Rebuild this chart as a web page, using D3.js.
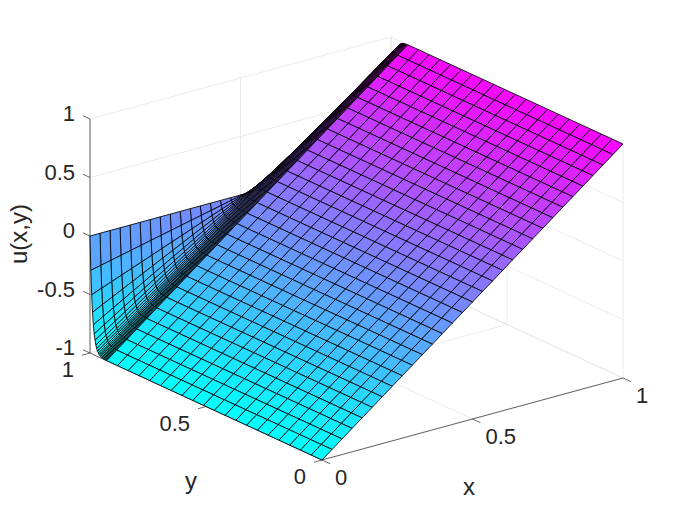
<!DOCTYPE html>
<html>
<head>
<meta charset="utf-8">
<style>
html,body{margin:0;padding:0;background:#fff}
svg{display:block}
text{font-family:"Liberation Sans",Arial,sans-serif;font-size:22px;fill:#262626}
text.axis-title{font-size:24px}
</style>
<script src="https://cdn.jsdelivr.net/npm/d3@7/dist/d3.min.js"></script>
</head>
<body>
<svg id="chart" width="689" height="517"></svg>
<script>
const xNodes=[0,.0333,.0667,.1,.1333,.1667,.2,.2333,.2667,.3,.3333,.3667,.4,.4333,.4667,.5,.5333,.5667,.6,.6333,.6667,.7,.7333,.7667,.8,.8333,.8667,.9,.9333,.9667,1];
const heightAtFrontEdge=[-1,-.9333,-.8667,-.8,-.7333,-.6667,-.6,-.5333,-.4667,-.4,-.3333,-.2667,-.2,-.1333,-.0667,0,.0667,.1333,.2,.2667,.3333,.4,.4667,.5333,.6,.6667,.7333,.8,.8667,.9333,1];
const yNodes=[0,.0464,.0928,.1392,.1856,.232,.2784,.3248,.3712,.4176,.464,.5104,.5568,.6032,.6496,.696,.7424,.7888,.8352,.8816,.928,.9316,.9352,.9388,.9424,.946,.9496,.9532,.9568,.9604,.964,.9676,.9712,.9748,.9784,.982,.9856,.9892,.9928,.9964,1];
const layerProfile=[1,1,1,1,1,1,1,1,1,1,1,1,1,1,1,1,1,1,1,1,.999,.9985,.998,.997,.996,.994,.992,.988,.983,.977,.967,.954,.936,.909,.872,.82,.746,.642,.496,.29,0];
const xTicks=[0,.5,1], yTicks=[0,.5,1], zTicks=[-1,-.5,0,.5,1];
const xTickLabels=["0","0.5","1"], yTickLabels=["0","0.5","1"], zTickLabels=["-1","-0.5","0","0.5","1"];

const svg=d3.select("#chart");
const xToPx=d3.scaleLinear([0,1],[0,301]), xToPy=d3.scaleLinear([0,1],[0,-82]);
const yToPx=d3.scaleLinear([0,1],[0,-232]), yToPy=d3.scaleLinear([0,1],[0,-107]);
const zToPy=d3.scaleLinear([-1,1],[0,-234]);
const ox=322, oy=460;
const P=(x,y,z)=>[ox+xToPx(x)+yToPx(y), oy+xToPy(x)+yToPy(y)+zToPy(z)];
const color=d3.scaleLinear([-1,1],["#00ffff","#ff00ff"]);
const line=d3.line();

const gridG=svg.append("g").attr("fill","none").attr("stroke","#e4e4e4").attr("stroke-width",.8);
const seg=(g,a,b)=>g.append("path").attr("d",line([a,b]));
zTicks.forEach(z=>{seg(gridG,P(0,1,z),P(1,1,z));seg(gridG,P(1,1,z),P(1,0,z));});
xTicks.forEach(x=>{seg(gridG,P(x,1,-1),P(x,1,1));seg(gridG,P(x,0,-1),P(x,1,-1));});
yTicks.forEach(y=>{seg(gridG,P(1,y,-1),P(1,y,1));seg(gridG,P(0,y,-1),P(1,y,-1));});

const axisG=svg.append("g").attr("fill","none").attr("stroke","#262626").attr("stroke-width",.7);
seg(axisG,P(0,0,-1),P(1,0,-1));
seg(axisG,P(0,0,-1),P(0,1,-1));
seg(axisG,P(0,1,-1),P(0,1,1));
const xT=[8,3.7], yT=[-8,2.2], zT=[-7,-3.2];
xTicks.forEach(x=>{const p=P(x,0,-1);seg(axisG,p,[p[0]+xT[0],p[1]+xT[1]]);});
yTicks.forEach(y=>{const p=P(0,y,-1);seg(axisG,p,[p[0]+yT[0],p[1]+yT[1]]);});
zTicks.forEach(z=>{const p=P(0,1,z);seg(axisG,p,[p[0]+zT[0],p[1]+zT[1]]);});

const surf=svg.append("g").attr("stroke","#000").attr("stroke-width",.85).attr("stroke-linejoin","round");
const height=(i,j)=>heightAtFrontEdge[i]*layerProfile[j];
for(let i=xNodes.length-2;i>=0;i--){
  for(let j=yNodes.length-2;j>=0;j--){
    const corners=[[i,j],[i+1,j],[i+1,j+1],[i,j+1]].map(([a,b])=>P(xNodes[a],yNodes[b],height(a,b)));
    surf.append("path").attr("d",line(corners)+"Z").attr("fill",color(height(i,j)));
  }
}

const label=(p,dx,dy,t,anchor)=>svg.append("text").attr("x",p[0]+dx).attr("y",p[1]+dy).attr("text-anchor",anchor).text(t);
zTicks.forEach((z,k)=>label(P(0,1,z),-15,2,zTickLabels[k],"end"));
yTicks.forEach((y,k)=>label(P(0,y,-1),-16,24,yTickLabels[k],"end"));
xTicks.forEach((x,k)=>label(P(x,0,-1),13,25,xTickLabels[k],"start"));
svg.append("text").attr("class","axis-title").attr("x",469).attr("y",495).attr("text-anchor","middle").text("x");
svg.append("text").attr("class","axis-title").attr("x",191).attr("y",489).attr("text-anchor","middle").text("y");
svg.append("text").attr("class","axis-title").attr("transform","translate(27,234) rotate(-90)").attr("text-anchor","middle").text("u(x,y)");
</script>
</body>
</html>
